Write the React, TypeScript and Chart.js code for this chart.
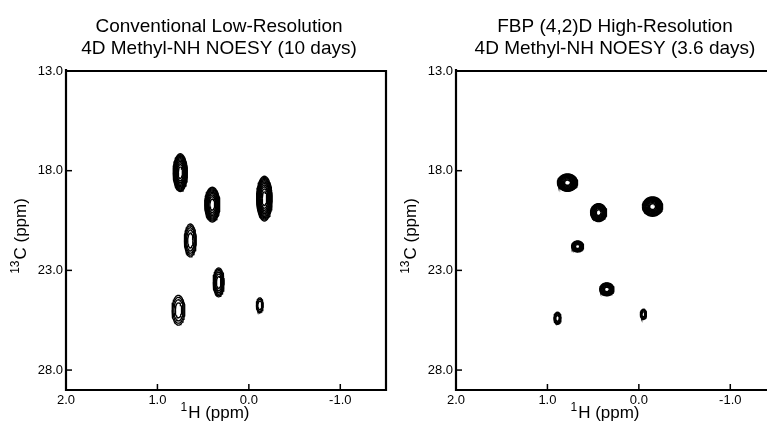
import React, { useEffect, useRef } from "react";
import { Chart, registerables } from "chart.js";

Chart.register(...registerables);

// ---- axes ----
const hTicks = [2.0, 1.0, 0.0, -1.0];
const cTicks = [13.0, 18.0, 23.0, 28.0];
const hMin = -1.5;
const hMax = 2.0;
const cMin = 13.0;
const cMax = 29.0;

// ---- titles ----
const lowTitle = ["Conventional Low-Resolution", "4D Methyl-NH NOESY (10 days)"];
const highTitle = ["FBP (4,2)D High-Resolution", "4D Methyl-NH NOESY (3.6 days)"];

// ---- conventional low-resolution peaks (ppm) ----
const lowH = [0.75, 0.4, -0.17, 0.64, 0.33, 0.77, -0.12];
const lowC = [18.1, 19.7, 19.4, 21.5, 23.6, 25.0, 24.75];
const lowWidthH = [0.155, 0.165, 0.17, 0.13, 0.12, 0.14, 0.075];
const lowWidthC = [1.9, 1.75, 2.25, 1.65, 1.45, 1.5, 0.75];
const lowLevels = [11, 10, 11, 5, 6, 4, 3];

// ---- FBP high-resolution peaks (ppm) ----
const highH = [0.78, 0.44, -0.15, 0.67, 0.35, 0.89, -0.05];
const highC = [18.6, 20.1, 19.8, 21.8, 23.95, 25.4, 25.2];
const highWidthH = [0.22, 0.175, 0.22, 0.13, 0.155, 0.077, 0.066];
const highWidthC = [0.87, 0.9, 0.97, 0.55, 0.65, 0.6, 0.5];
const highLevels = [11, 10, 11, 7, 8, 4, 4];

const FONT = '"Liberation Sans", Arial, Helvetica, sans-serif';

function contourDatasets(
  hs: number[],
  cs: number[],
  wh: number[],
  wc: number[],
  levels: number[],
  lw: number
) {
  const sets: any[] = [];
  const N = 48;
  hs.forEach((h, i) => {
    const n = levels[i];
    for (let k = 0; k < n; k++) {
      const f = Math.sqrt(1 - k / n);
      const pts: { x: number; y: number }[] = [];
      for (let j = 0; j <= N; j++) {
        const t = (j / N) * Math.PI * 2;
        pts.push({
          x: h + (f * wh[i] * Math.cos(t)) / 2,
          y: cs[i] + (f * wc[i] * Math.sin(t)) / 2,
        });
      }
      sets.push({
        data: pts,
        showLine: true,
        pointRadius: 0,
        borderColor: "#000",
        borderWidth: lw,
        fill: false,
        tension: 0,
      });
    }
  });
  return sets;
}

function drawSuper(
  ctx: CanvasRenderingContext2D,
  sup: string,
  main: string,
  cx: number,
  base: number
) {
  ctx.font = `12px ${FONT}`;
  const w1 = ctx.measureText(sup).width;
  ctx.font = `17px ${FONT}`;
  const w2 = ctx.measureText(main).width;
  const total = w1 + 1 + w2;
  const start = cx - total / 2;
  ctx.textAlign = "left";
  ctx.textBaseline = "alphabetic";
  ctx.font = `12px ${FONT}`;
  ctx.fillText(sup, start, base - 7);
  ctx.font = `17px ${FONT}`;
  ctx.fillText(main, start + w1 + 1, base);
}

function makeFramePlugin(titleLines: string[], titleCx: number) {
  return {
    id: "frame",
    afterDraw(chart: any) {
      const { ctx, chartArea: a, scales } = chart;
      ctx.save();
      ctx.strokeStyle = "#000";
      ctx.lineWidth = 2.2;
      ctx.beginPath();
      ctx.moveTo(a.left, a.top - 2);
      ctx.lineTo(a.left, a.bottom);
      ctx.lineTo(a.right, a.bottom);
      ctx.lineTo(a.right, a.top);
      ctx.lineTo(a.left, a.top);
      ctx.stroke();
      ctx.lineWidth = 1.5;
      for (const v of cTicks) {
        const y = scales.y.getPixelForValue(v);
        ctx.beginPath();
        ctx.moveTo(a.left, y);
        ctx.lineTo(a.left + 6, y);
        ctx.stroke();
      }
      for (const v of hTicks) {
        const x = scales.x.getPixelForValue(v);
        if (Math.abs(x - a.left) < 2 || Math.abs(x - a.right) < 2) continue;
        ctx.beginPath();
        ctx.moveTo(x, a.bottom);
        ctx.lineTo(x, a.bottom - 6);
        ctx.stroke();
      }
      ctx.fillStyle = "#000";
      ctx.font = `19px ${FONT}`;
      ctx.textAlign = "center";
      ctx.textBaseline = "alphabetic";
      ctx.fillText(titleLines[0], titleCx, 32);
      ctx.fillText(titleLines[1], titleCx, 54);
      // x title
      drawSuper(ctx, "1", "H (ppm)", 215, 418);
      // y title
      ctx.save();
      ctx.translate(26, 236);
      ctx.rotate(-Math.PI / 2);
      drawSuper(ctx, "13", "C (ppm)", 0, 0);
      ctx.restore();
      ctx.restore();
    },
  };
}

function Panel(props: {
  left: number;
  datasets: any[];
  title: string[];
  titleCx: number;
}) {
  const ref = useRef<HTMLCanvasElement | null>(null);
  useEffect(() => {
    if (!ref.current) return;
    const chart = new Chart(ref.current, {
      type: "scatter",
      data: { datasets: props.datasets },
      options: {
        responsive: false,
        animation: false,
        devicePixelRatio: 1,
        events: [],
        layout: { padding: { top: 71, right: 4, left: 0, bottom: 0 } },
        plugins: {
          legend: { display: false },
          tooltip: { enabled: false },
          title: { display: false },
        },
        scales: {
          x: {
            type: "linear",
            reverse: true,
            min: hMin,
            max: hMax,
            grid: { display: false, drawTicks: false },
            border: { display: false },
            afterBuildTicks: (s: any) => {
              s.ticks = hTicks.map((v) => ({ value: v }));
            },
            afterFit: (s: any) => {
              s.height = 39;
            },
            ticks: {
              autoSkip: false,
              maxRotation: 0,
              padding: 3,
              color: "#000",
              font: { family: FONT, size: 13 },
              callback: (v: any) => Number(v).toFixed(1),
            },
          },
          y: {
            type: "linear",
            reverse: true,
            min: cMin,
            max: cMax,
            grid: { display: false, drawTicks: false },
            border: { display: false },
            afterBuildTicks: (s: any) => {
              s.ticks = cTicks.map((v) => ({ value: v }));
            },
            afterFit: (s: any) => {
              s.width = 66;
            },
            ticks: {
              autoSkip: false,
              padding: 3,
              color: "#000",
              font: { family: FONT, size: 13 },
              callback: (v: any) => Number(v).toFixed(1),
            },
          },
        },
      },
      plugins: [makeFramePlugin(props.title, props.titleCx)],
    } as any);
    return () => chart.destroy();
  }, []);
  return (
    <canvas
      ref={ref}
      width={390}
      height={429}
      style={{ position: "absolute", left: props.left, top: 0, width: 390, height: 429 }}
    />
  );
}

export default function App() {
  const lowSets = contourDatasets(lowH, lowC, lowWidthH, lowWidthC, lowLevels, 1.3);
  const highSets = contourDatasets(highH, highC, highWidthH, highWidthC, highLevels, 1.4);
  return (
    <div
      style={{
        position: "absolute",
        left: 0,
        top: 0,
        width: 767,
        height: 429,
        overflow: "hidden",
        background: "#fff",
      }}
    >
      <Panel left={0} datasets={lowSets} title={lowTitle} titleCx={219} />
      <Panel left={390} datasets={highSets} title={highTitle} titleCx={225} />
    </div>
  );
}
